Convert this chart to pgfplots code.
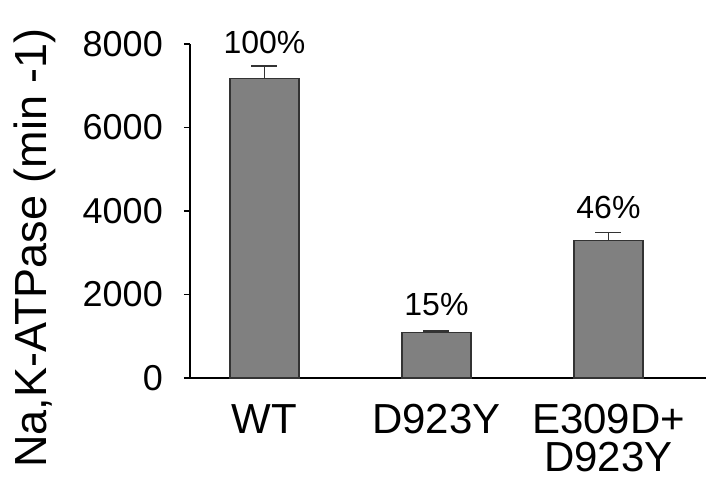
\documentclass[border=0pt]{standalone}
\usepackage{fontspec}
\setmainfont{Liberation Sans}
\usepackage{pgfplots}
\pgfplotsset{compat=1.18}
\definecolor{barfill}{HTML}{808080}
\definecolor{baredge}{HTML}{333333}
\begin{document}
\begin{tikzpicture}
\begin{axis}[
  scale only axis, width=516pt, height=334pt,
  xmin=-0.433, xmax=2.567, ymin=0, ymax=8000,
  axis x line=bottom, axis y line=left,
  axis line style={-, line width=1.3pt, black},
  xtick={0,1,2}, xticklabels={WT, D923Y, {E309D+\\D923Y}},
  x tick style={draw=none},
  ytick={0,2000,4000,6000,8000},
  tick align=outside, major tick length=6pt,
  y tick style={line width=1.3pt, black},
  scaled y ticks=false,
  /pgf/number format/1000 sep={},
  /pgf/number format/assume math mode=true,
  yticklabel style={font=\fontsize{36}{40}\selectfont, inner sep=0pt, xshift=-21pt},
  xticklabel style={font=\fontsize{42}{38}\selectfont, align=center, inner sep=0pt, yshift=-20pt},
  clip=false,
]
\addplot[ybar, bar width=69pt, fill=barfill, draw=baredge, line width=1.5pt,
  error bars/.cd, y dir=plus, y explicit,
  error bar style={line width=1.5pt, baredge},
  error mark options={rotate=90, mark size=13pt, line width=1.5pt, baredge}]
  coordinates {(0,7178) +- (0,295) (1,1085) +- (0,41) (2,3289) +- (0,191)};
\coordinate (O) at (axis cs:-0.433,0);
\node[anchor=base, yshift=13pt, font=\fontsize{32}{36}\selectfont, inner sep=0pt] at (axis cs:0,7473) {100\%};
\node[anchor=base, yshift=15pt, font=\fontsize{32}{36}\selectfont, inner sep=0pt] at (axis cs:1,1126) {15\%};
\node[anchor=base, yshift=14pt, font=\fontsize{32}{36}\selectfont, inner sep=0pt] at (axis cs:2,3480) {46\%};
\end{axis}
\node[rotate=90, anchor=base, inner sep=0pt, font=\fontsize{45}{50}\selectfont] at ([xshift=-143pt, yshift=130pt]O) {Na,K-ATPase (min -1)};
\pgfresetboundingbox
\path ([xshift=-190pt, yshift=-99pt]O) rectangle ++(706pt,477pt);
\end{tikzpicture}
\end{document}
